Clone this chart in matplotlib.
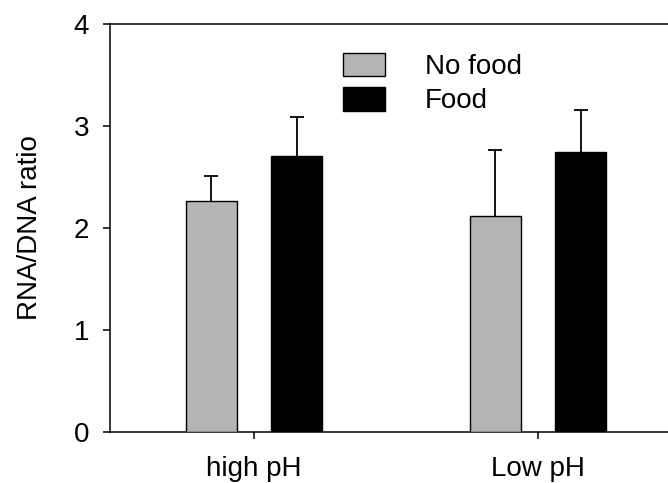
import numpy as np
import matplotlib
matplotlib.use("Agg")
import matplotlib.pyplot as plt

plt.rcParams['font.family'] = ['Liberation Sans', 'DejaVu Sans']

groups = ["high pH", "Low pH"]
no_food = [2.26, 2.12]
no_food_err = [0.25, 0.64]
food = [2.71, 2.75]
food_err = [0.38, 0.41]

fig = plt.figure(figsize=(6.68, 4.83), dpi=100)
ax = fig.add_axes([110/668, 51/483, 1 - 110/668, 408/483])

x = np.arange(len(groups))
w = 0.18
off = 0.15
ax.bar(x - off, no_food, w, color='#b4b4b4', edgecolor='black',
       linewidth=1.0, label='No food', zorder=3)
ax.bar(x + off, food, w, color='black', edgecolor='black',
       linewidth=1.0, label='Food', zorder=3)

# upper error bars only; hide the lower caps sitting on the bar tops
err_kw = dict(fmt='none', elinewidth=1.3, capsize=4.8, capthick=1.3,
              ecolor='black', zorder=2)
for xs, vals, errs in [(x - off, no_food, no_food_err), (x + off, food, food_err)]:
    _, caps, _ = ax.errorbar(xs, vals, yerr=[np.zeros(2), errs], **err_kw)
    caps[0].set_visible(False)

ax.set_xlim(-0.507, 1.458)
ax.set_ylim(0, 4)
ax.set_yticks([0, 1, 2, 3, 4])
ax.set_xticks(x)
ax.set_xticklabels(groups)
ax.tick_params(direction='out', length=5, width=1.1, labelsize=20)
ax.tick_params(axis='y', pad=10)
ax.tick_params(axis='x', pad=12)
ax.set_ylabel("RNA/DNA ratio", fontsize=20, labelpad=22)
ax.spines['right'].set_visible(False)
for s in ['left', 'top', 'bottom']:
    ax.spines[s].set_linewidth(1.1)

ax.legend(loc='upper left', bbox_to_anchor=(0.418, 0.93), frameon=False,
          fontsize=20, handlelength=1.5, handleheight=0.94,
          handletextpad=1.45, labelspacing=0.25, borderaxespad=0,
          borderpad=0)

fig.savefig("out.png", dpi=100)
